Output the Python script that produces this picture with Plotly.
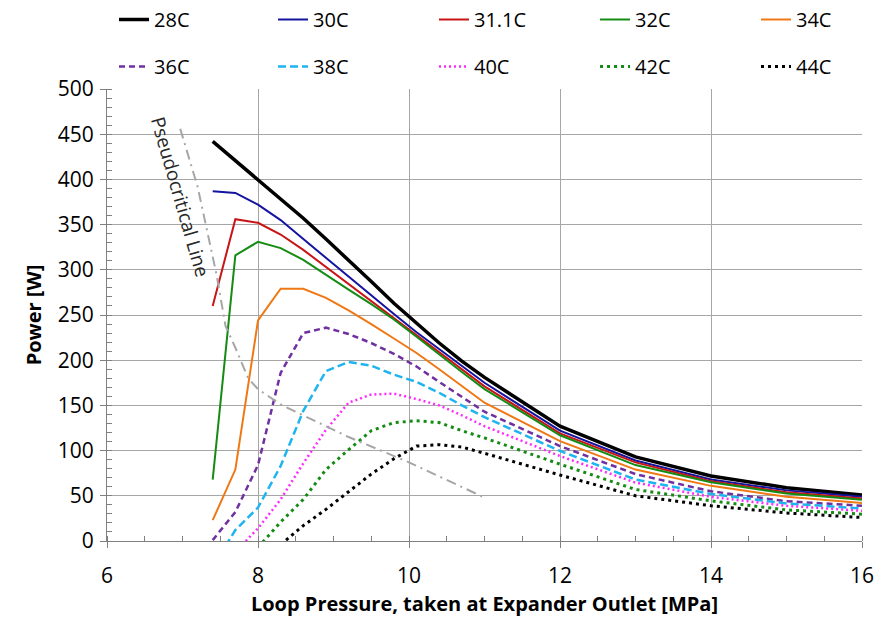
import plotly.graph_objects as go

# ---------------- data ----------------
pressure = [7.4, 7.7, 8.0, 8.3, 8.6, 8.9, 9.2, 9.5, 9.8, 10.1, 10.4, 10.7, 11.0, 12, 13, 14, 15, 16]

power_28 = [442, 421, 400, 379, 357, 334, 311, 287, 263, 241, 219, 199, 181, 127, 93, 72, 59, 51]
power_30 = [387, 385, 372, 355, 334, 313, 292, 272, 251, 231, 212, 193, 175, 122, 89, 68, 56, 49]
power_311 = [260, 356, 352, 339, 322, 303, 284, 265, 246, 228, 208, 189, 171, 119, 87, 66, 54, 47]
power_32 = [68, 316, 331, 324, 311, 294, 278, 262, 245, 226, 206, 187, 168, 117, 84, 65, 52.5, 45.5]
power_34 = [23, 79, 244, 279, 279, 269, 255, 240, 224, 208, 190, 171, 153, 110.5, 79, 61, 49, 42]
power_36 = [1, 32, 84, 186, 230, 236, 229, 219, 207, 193, 176, 159, 143, 105, 74, 55, 44, 39]
power_38 = [-28, 12, 37, 83, 144, 188, 198, 194, 184, 176, 164, 150, 137, 99.6, 68, 52, 41.5, 36]
power_40 = [None, -12, 14, 46, 86, 123, 153, 162, 163, 157, 150, 139, 127, 94, 64.6, 48.8, 38.9, 33.4]
power_42 = [None, None, -7, 21, 46, 79, 101, 122, 131, 133, 131, 122, 114, 85, 57, 44.4, 34.4, 29.7]
power_44 = [None, None, None, -4, 17, 35, 55, 74, 91, 105, 106.5, 104, 97, 73, 50, 39, 31, 26]

series_names = ["28C", "30C", "31.1C", "32C", "34C", "36C", "38C", "40C", "42C", "44C"]
series_values = [power_28, power_30, power_311, power_32, power_34,
                 power_36, power_38, power_40, power_42, power_44]

pseudo_pressure = [6.97, 7.2, 7.45, 7.57, 7.72, 7.87, 8.0, 8.3, 8.6, 9.2, 10.0, 11.0]
pseudo_power = [456, 392, 295, 238, 210, 180, 168, 151, 139, 115, 87, 48]

x_ticks = [6, 8, 10, 12, 14, 16]
y_ticks = [0, 50, 100, 150, 200, 250, 300, 350, 400, 450, 500]

# ---------------- styles ----------------
colors = ["#000000", "#1414A0", "#C81414", "#148C14", "#F07814",
          "#7030A0", "#1EB4F0", "#FF28FF", "#148C14", "#000000"]
widths = [3.5, 2, 2, 2, 2, 2.5, 2.5, 2.5, 3, 3]
dashes = ["solid", "solid", "solid", "solid", "solid",
          "6px,4px", "8px,4px", "2px,3px", "3px,4px", "3px,4px"]

FONT = "'Open Sans', sans-serif"

# legend columns (one small legend per column, two rows each)
legend_ids = ["legend", "legend2", "legend3", "legend4", "legend5"]
legend_x = [0.0093, 0.2199, 0.4331, 0.6464, 0.8596]

fig = go.Figure()
for i, (name, vals) in enumerate(zip(series_names, series_values)):
    fig.add_trace(go.Scatter(
        x=pressure, y=vals, name=name, mode="lines",
        line=dict(color=colors[i], width=widths[i], dash=dashes[i]),
        legend=legend_ids[i % 5], legendgroup=name,
        connectgaps=False,
    ))

fig.add_trace(go.Scatter(
    x=pseudo_pressure, y=pseudo_power, mode="lines", showlegend=False,
    line=dict(color="#A6A6A6", width=2, dash="10px,5px,2px,5px"),
))

fig.add_annotation(
    x=6.975, y=381, xref="x", yref="y", text="Pseudocritical Line",
    showarrow=False, textangle=74,
    font=dict(family=FONT, size=19, color="#262626"),
)

axis_line = "#808080"
grid = "#A6A6A6"

fig.update_xaxes(
    range=[6, 16], tickvals=x_ticks, showgrid=True, gridcolor=grid, gridwidth=1,
    showline=True, linecolor=axis_line, linewidth=1, zeroline=False,
    ticks="outside", ticklen=6, tickcolor=axis_line,
    minor=dict(dtick=0.5, tick0=6, ticks="inside", ticklen=5, tickcolor=axis_line, showgrid=False),
    tickfont=dict(family=FONT, size=21, color="#000000"),
    ticklabelstandoff=10,
    title=dict(text="<b>Loop Pressure, taken at Expander Outlet [MPa]</b>",
               font=dict(family=FONT, size=20, color="#000000"), standoff=8),
)
fig.update_yaxes(
    range=[0, 500], tickvals=y_ticks, showgrid=True, gridcolor=grid, gridwidth=1,
    showline=True, linecolor=axis_line, linewidth=1, zeroline=False,
    ticks="outside", ticklen=6, tickcolor=axis_line,
    minor=dict(dtick=10, tick0=0, ticks="inside", ticklen=5, tickcolor=axis_line, showgrid=False),
    tickfont=dict(family=FONT, size=21, color="#000000"),
    ticklabelstandoff=2,
    title=dict(text="<b>Power [W]</b>",
               font=dict(family=FONT, size=20, color="#000000"), standoff=10),
)

legend_common = dict(
    orientation="v", xref="paper", yref="paper", xanchor="left", yanchor="top",
    y=1.1969, bgcolor="rgba(0,0,0,0)", tracegroupgap=18,
    font=dict(family=FONT, size=20, color="#000000"), itemwidth=30,
    traceorder="grouped",
)

fig.update_layout(
    width=888, height=621,
    margin=dict(l=107, r=26, t=89, b=80, autoexpand=False),
    plot_bgcolor="#FFFFFF", paper_bgcolor="#FFFFFF",
    font=dict(family=FONT),
    **{lid: dict(x=lx, **legend_common) for lid, lx in zip(legend_ids, legend_x)},
)

fig.write_html("out.html")
